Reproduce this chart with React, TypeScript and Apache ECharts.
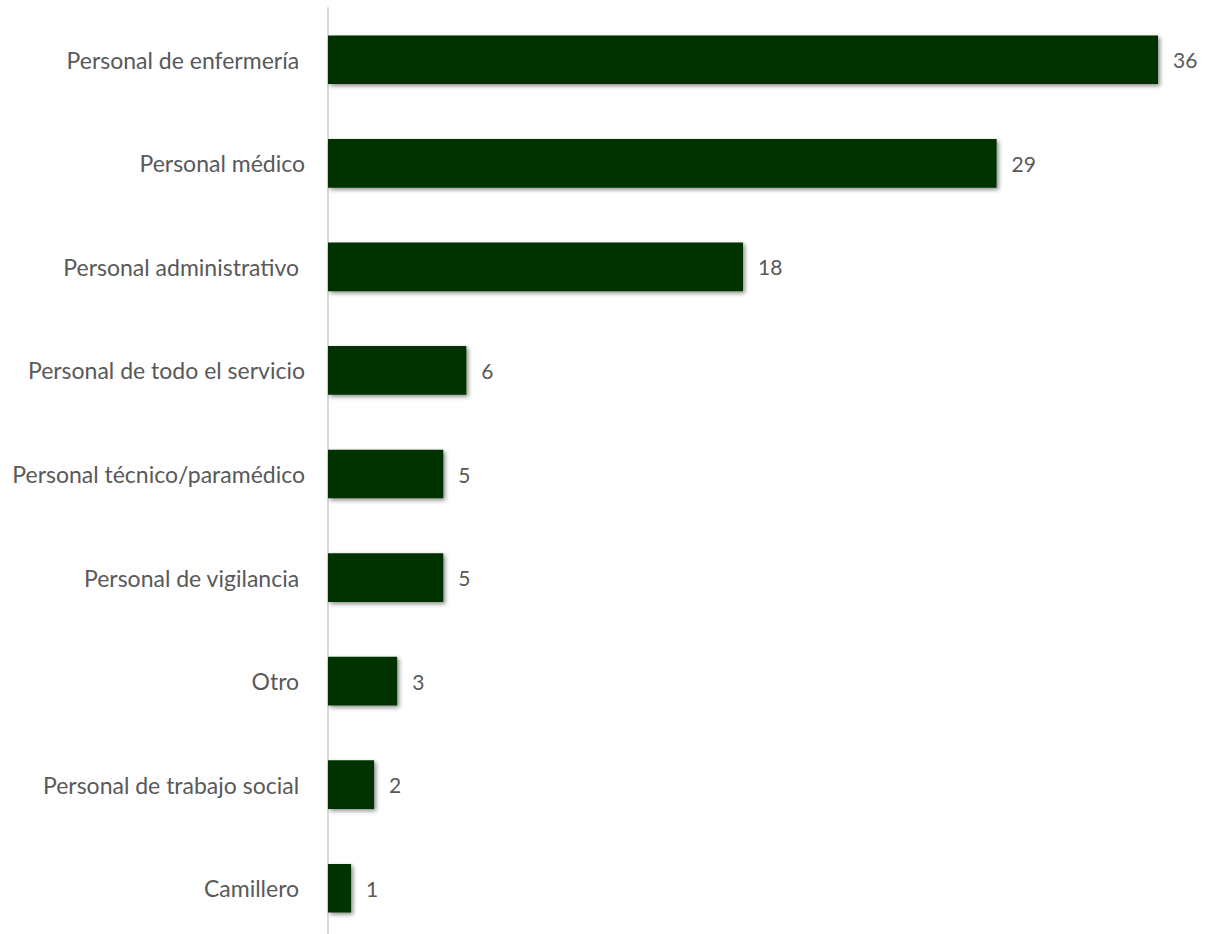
import React, { useEffect, useRef } from "react";
import * as echarts from "echarts";

const categories = [
  "Personal de enfermería ",
  "Personal médico",
  "Personal administrativo ",
  "Personal de todo el servicio",
  "Personal técnico/paramédico",
  "Personal de vigilancia ",
  "Otro ",
  "Personal de trabajo social ",
  "Camillero ",
];
const values = [36, 29, 18, 6, 5, 5, 3, 2, 1];

export default function App() {
  const ref = useRef<HTMLDivElement>(null);
  useEffect(() => {
    document.body.style.margin = "0";
    const chart = echarts.init(ref.current!, null, { renderer: "svg" });
    chart.setOption({
      animation: false,
      backgroundColor: "#ffffff",
      grid: { left: 328, top: 8, width: 830, height: 932, containLabel: false },
      xAxis: {
        type: "value",
        min: 0,
        max: 36,
        show: false,
      },
      yAxis: {
        type: "category",
        inverse: true,
        data: categories,
        axisLine: { show: true, lineStyle: { color: "#d9d9d9", width: 2 } },
        axisTick: { show: false },
        axisLabel: {
          color: "#595959",
          fontFamily: "Lato",
          fontSize: 23,
          margin: 23,
        },
      },
      series: [
        {
          type: "bar",
          data: values,
          barWidth: "47%",
          itemStyle: {
            color: "#033303",
            shadowColor: "rgba(0,0,0,0.45)",
            shadowBlur: 4,
            shadowOffsetX: 2,
            shadowOffsetY: 2,
          },
          label: {
            show: true,
            position: "right",
            distance: 15,
            color: "#595959",
            fontFamily: "Lato",
            fontSize: 21,
          },
        },
      ],
    });
    return () => chart.dispose();
  }, []);
  return (
    <div style={{ position: "absolute", left: 0, top: 0, width: 1210, height: 934, overflow: "hidden" }}>
      <div ref={ref} style={{ width: 1210, height: 950 }} />
    </div>
  );
}
